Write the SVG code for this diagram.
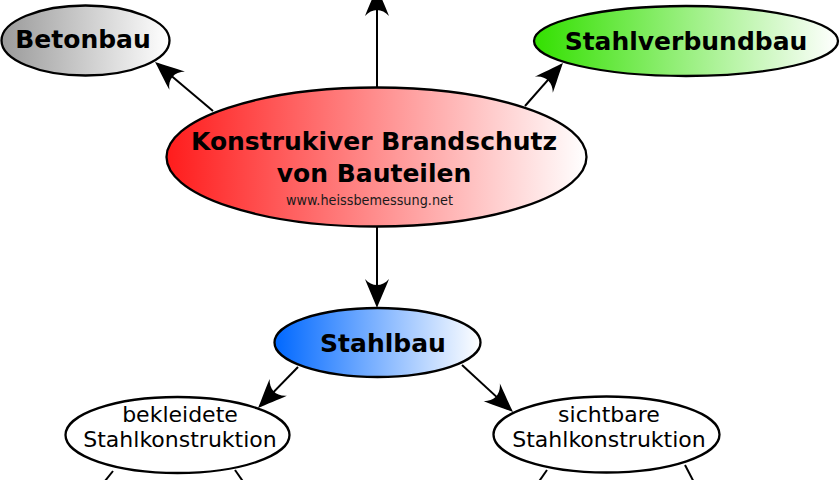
<svg xmlns="http://www.w3.org/2000/svg" width="840" height="480" viewBox="0 0 840 480">
<defs>
<linearGradient id="gGray" x1="0" y1="0" x2="1" y2="0"><stop offset="0" stop-color="#9a9a9a"/><stop offset="1" stop-color="#ffffff"/></linearGradient>
<linearGradient id="gGreen" x1="0" y1="0" x2="1" y2="0"><stop offset="0" stop-color="#33e000"/><stop offset="1" stop-color="#ffffff"/></linearGradient>
<linearGradient id="gRed" x1="0" y1="0" x2="1" y2="0"><stop offset="0" stop-color="#ff1c1c"/><stop offset="1" stop-color="#ffffff"/></linearGradient>
<linearGradient id="gBlue" x1="0" y1="0" x2="1" y2="0"><stop offset="0" stop-color="#0068ff"/><stop offset="1" stop-color="#ffffff"/></linearGradient>
<marker id="arr" viewBox="-31 -13 33 26" refX="-3" refY="0" markerWidth="33" markerHeight="26" markerUnits="userSpaceOnUse" orient="auto">
<path d="M0,0 C-8,-3 -21,-9 -29,-12 C-21,-5 -21,5 -29,12 C-21,9 -8,3 0,0 Z" fill="#000"/>
</marker>
<style>
.node ellipse{stroke:#000;stroke-width:2.3}
.b{font-family:"DejaVu Sans",sans-serif;font-weight:bold;font-size:25px;fill:#000;text-anchor:middle}
.r{font-family:"DejaVu Sans",sans-serif;font-size:22px;fill:#000;text-anchor:middle}
.u{font-family:"DejaVu Sans",sans-serif;font-size:13.5px;fill:#1a1a1a;text-anchor:middle}
#connectors line{stroke:#000;stroke-width:2;fill:none}
</style>
</defs>
<g id="connectors">
<line x1="213" y1="111" x2="157.3" y2="63.9" marker-end="url(#arr)"/>
<line x1="525" y1="106" x2="561" y2="65.2" marker-end="url(#arr)"/>
<line x1="377" y1="88" x2="377" y2="-10" marker-end="url(#arr)"/>
<line x1="377" y1="227" x2="377" y2="305" marker-end="url(#arr)"/>
<line x1="298" y1="367" x2="260.1" y2="405.9" marker-end="url(#arr)"/>
<line x1="462" y1="365" x2="510.8" y2="410" marker-end="url(#arr)"/>
<line x1="113" y1="471" x2="97" y2="491"/>
<line x1="235" y1="470" x2="249" y2="490"/>
<line x1="547" y1="470" x2="533" y2="490"/>
<line x1="685" y1="465" x2="698" y2="490"/>
</g>
<g id="betonbau" class="node">
<ellipse cx="85.5" cy="40.5" rx="84" ry="35" fill="url(#gGray)"/>
<text class="b" x="83" y="48">Betonbau</text>
</g>
<g id="stahlverbundbau" class="node">
<ellipse cx="686" cy="41" rx="152" ry="35" fill="url(#gGreen)"/>
<text class="b" x="686" y="50">Stahlverbundbau</text>
</g>
<g id="brandschutz" class="node">
<ellipse cx="376.5" cy="157" rx="210" ry="69.5" fill="url(#gRed)"/>
<text class="b" x="374" y="150">Konstrukiver Brandschutz</text>
<text class="b" x="374" y="182">von Bauteilen</text>
<text class="u" x="369.5" y="205" textLength="167" lengthAdjust="spacingAndGlyphs">www.heissbemessung.net</text>
</g>
<g id="stahlbau" class="node">
<ellipse cx="377.5" cy="342.5" rx="103" ry="34.5" fill="url(#gBlue)"/>
<text class="b" x="383" y="352">Stahlbau</text>
</g>
<g id="bekleidete" class="node">
<ellipse cx="177.5" cy="435" rx="112" ry="38" fill="#fff"/>
<text class="r" x="180" y="422">bekleidete</text>
<text class="r" x="180" y="447">Stahlkonstruktion</text>
</g>
<g id="sichtbare" class="node">
<ellipse cx="606.5" cy="434.5" rx="113" ry="38" fill="#fff"/>
<text class="r" x="609" y="422">sichtbare</text>
<text class="r" x="609" y="447">Stahlkonstruktion</text>
</g>
</svg>
